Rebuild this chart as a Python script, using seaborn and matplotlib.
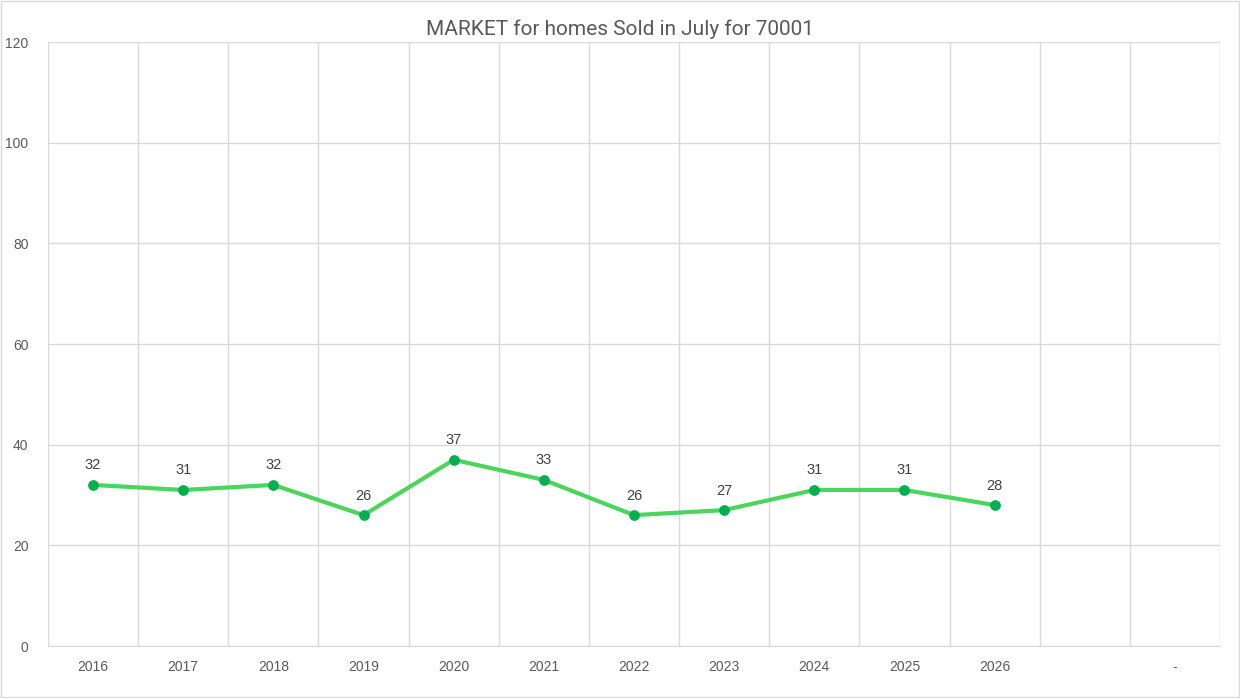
import numpy as np
import matplotlib
matplotlib.use("Agg")
import matplotlib.pyplot as plt
import seaborn as sns

years = ["2016", "2017", "2018", "2019", "2020", "2021", "2022", "2023",
         "2024", "2025", "2026", "", "-"]
sold = [32, 31, 32, 26, 37, 33, 26, 27, 31, 31, 28, np.nan, np.nan]
y_ticks = [0, 20, 40, 60, 80, 100, 120]

sns.set_style("white")
plt.rcParams['font.family'] = ['Liberation Sans', 'DejaVu Sans']

fig = plt.figure(figsize=(12.4, 6.98), dpi=100)
ax = fig.add_axes([48/1240, 52/698, 1172/1240, 604/698])

pos = np.arange(len(years))
sns.lineplot(x=pos, y=sold, ax=ax, color="#4cd45c", linewidth=3, zorder=3)
ax.scatter(pos, sold, s=45, color="#00b050", zorder=4)

for x, v in zip(pos, sold):
    if not np.isnan(v):
        ax.annotate(f"{int(v)}", (x, v), xytext=(0, 9), textcoords="offset points",
                    ha="center", va="bottom", fontsize=10.5, color="#404040")

ax.set_xlim(-0.5, len(years) - 0.5)
ax.set_ylim(0, 120)
ax.set_yticks(y_ticks)
ax.set_xticks(pos)
ax.set_xticklabels(years)
ax.set_xticks(np.arange(-0.5, len(years)), minor=True)
ax.tick_params(axis="x", which="major", length=0, pad=10, labelsize=10, labelcolor="#595959")
ax.tick_params(axis="x", which="minor", length=6, color="#d9d9d9", width=1)
ax.tick_params(axis="y", length=0, pad=14, labelsize=10, labelcolor="#595959")
ax.grid(axis="y", which="major", color="#d9d9d9", linewidth=1)
ax.grid(axis="x", which="minor", color="#d9d9d9", linewidth=1)
for s in ["left", "right", "top"]:
    ax.spines[s].set_visible(False)
ax.spines["bottom"].set_color("#d9d9d9")
ax.set_xlabel("")
ax.set_ylabel("")

fig.text(0.5, 1 - 29/698, "MARKET for homes Sold in July for 70001", ha="center", va="center",
         fontsize=15, color="#595959", family=["Roboto", "DejaVu Sans"])

fig.patches.append(plt.Rectangle((0.001, 0.001), 0.998, 0.998, transform=fig.transFigure,
                                 fill=False, edgecolor="#d9d9d9", linewidth=1))

fig.savefig("out.png", dpi=100)
